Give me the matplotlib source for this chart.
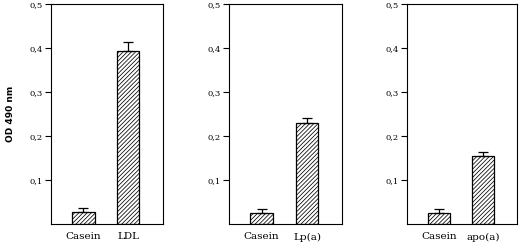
import matplotlib
matplotlib.use('Agg')
import matplotlib.pyplot as plt

# data
labels_1 = ['Casein', 'LDL']
labels_2 = ['Casein', 'Lp(a)']
labels_3 = ['Casein', 'apo(a)']
od_1 = [0.027, 0.393]
od_2 = [0.026, 0.230]
od_3 = [0.026, 0.155]
err_1 = [0.009, 0.020]
err_2 = [0.009, 0.011]
err_3 = [0.009, 0.009]
yticks = [0.1, 0.2, 0.3, 0.4, 0.5]
yticklabels = ['0,1', '0,2', '0,3', '0,4', '0,5']

plt.rcParams['hatch.linewidth'] = 0.55
plt.rcParams['hatch.color'] = '#222222'

fig = plt.figure(figsize=(5.2, 2.43), dpi=100)
boxes = [(0.098, 0.215), (0.440, 0.218), (0.783, 0.211)]
panels = [(labels_1, od_1, err_1), (labels_2, od_2, err_2), (labels_3, od_3, err_3)]

for (left, w), (labs, vals, errs) in zip(boxes, panels):
    ax = fig.add_axes([left, 0.078, w, 0.905])
    x = [0, 1]
    ax.bar(x, vals, width=0.5, color='white', edgecolor='black', linewidth=0.9,
           hatch='////////', yerr=[[0, 0], errs], capsize=3.5,
           error_kw=dict(elinewidth=0.9, capthick=0.9, ecolor='black'))
    ax.set_xlim(-0.725, 1.775)
    ax.set_ylim(0, 0.5)
    ax.set_yticks(yticks)
    ax.set_yticklabels(yticklabels, fontsize=6, family='DejaVu Serif')
    ax.set_xticks(x)
    ax.set_xticklabels(labs, fontsize=7.5, family='DejaVu Serif')
    ax.tick_params(axis='x', length=0, pad=6)
    ax.tick_params(axis='y', length=4, width=0.8, pad=2)
    for s in ax.spines.values():
        s.set_linewidth(0.8)
    if left < 0.2:
        ax.set_ylabel('OD 490 nm', fontsize=6.5, fontweight='bold', labelpad=10)

fig.savefig('out.png', dpi=100)
